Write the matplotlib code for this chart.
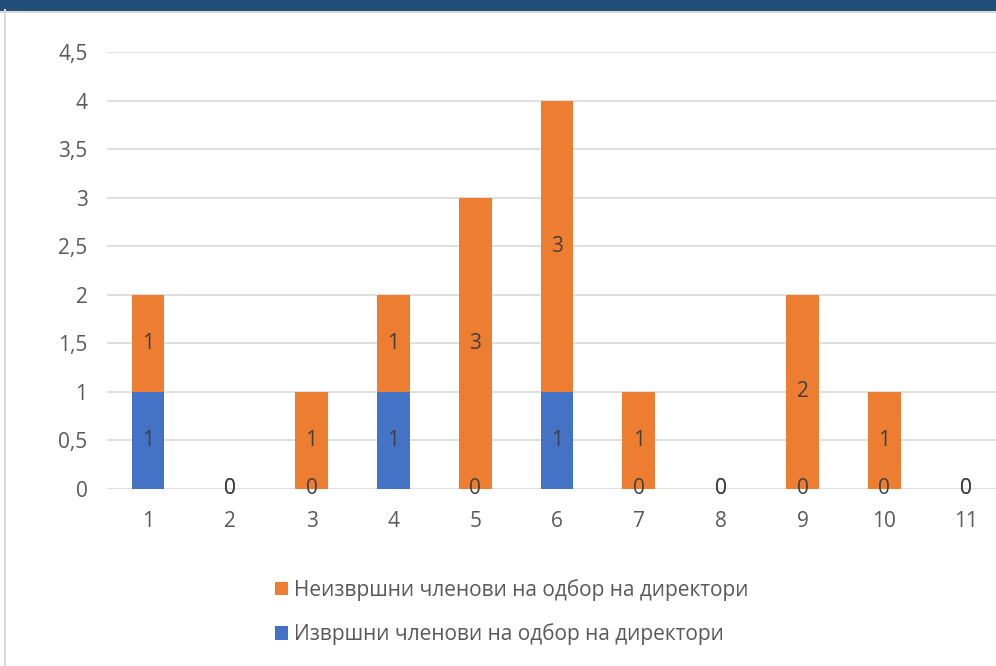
import matplotlib.pyplot as plt
from matplotlib.patches import Rectangle
from matplotlib.lines import Line2D

categories = ['1', '2', '3', '4', '5', '6', '7', '8', '9', '10', '11']
izvrshni = [1, 0, 0, 1, 0, 1, 0, 0, 0, 0, 0]
neizvrshni = [1, 0, 1, 1, 3, 3, 1, 0, 2, 1, 0]
yticks = [0, 0.5, 1, 1.5, 2, 2.5, 3, 3.5, 4, 4.5]
ytick_labels = ['0', '0,5', '1', '1,5', '2', '2,5', '3', '3,5', '4', '4,5']

plt.rcParams['font.family'] = ['Open Sans', 'DejaVu Sans']

blue = '#4472C4'
orange = '#ED7D31'
txt = '#595959'

fig = plt.figure(figsize=(9.96, 6.66), dpi=100)

# top band and left border of the cropped screenshot
fig.patches.append(Rectangle((0, 1 - 10/666), 1, 10/666, transform=fig.transFigure,
                             color='#1F4E79', zorder=0))
fig.lines.append(Line2D([0, 1], [1 - 12/666, 1 - 12/666], transform=fig.transFigure,
                        color='#D9D9D9', lw=1.5))
fig.lines.append(Line2D([5/996, 5/996], [0, 1 - 10/666], transform=fig.transFigure,
                        color='#D9D9D9', lw=1.5))

ax = fig.add_axes([107/996, 177/666, 900/996, 437/666])
x = list(range(1, len(categories) + 1))
b1 = ax.bar(x, izvrshni, width=0.4, color=blue, label='Извршни членови на одбор на директори', zorder=2)
b2 = ax.bar(x, neizvrshni, width=0.4, bottom=izvrshni, color=orange,
            label='Неизвршни членови на одбор на директори', zorder=2)
ax.bar_label(b1, label_type='center', color='#404040', fontsize=15)
ax.bar_label(b2, label_type='center', color='#404040', fontsize=15)

ax.set_xlim(0.5, 11.5)
ax.set_ylim(0, 4.5)
ax.set_yticks(yticks)
ax.set_yticklabels(ytick_labels)
ax.set_xticks(x)
ax.set_xticklabels(categories)
ax.tick_params(length=0, labelsize=15, labelcolor=txt, pad=14)
ax.tick_params(axis='x', pad=16)
ax.yaxis.grid(True, color='#D9D9D9', lw=1.2, zorder=0)
for s in ax.spines.values():
    s.set_visible(False)

handles = [b2, b1]
fig.legend(handles, [h.get_label() for h in handles], loc='center',
           bbox_to_anchor=(512/996, 1 - 612/666), ncol=1, frameon=False, fontsize=15,
           labelcolor=txt, handlelength=0.6, handleheight=0.6, handletextpad=0.3,
           labelspacing=1.1)

fig.savefig('out.png', dpi=100)
